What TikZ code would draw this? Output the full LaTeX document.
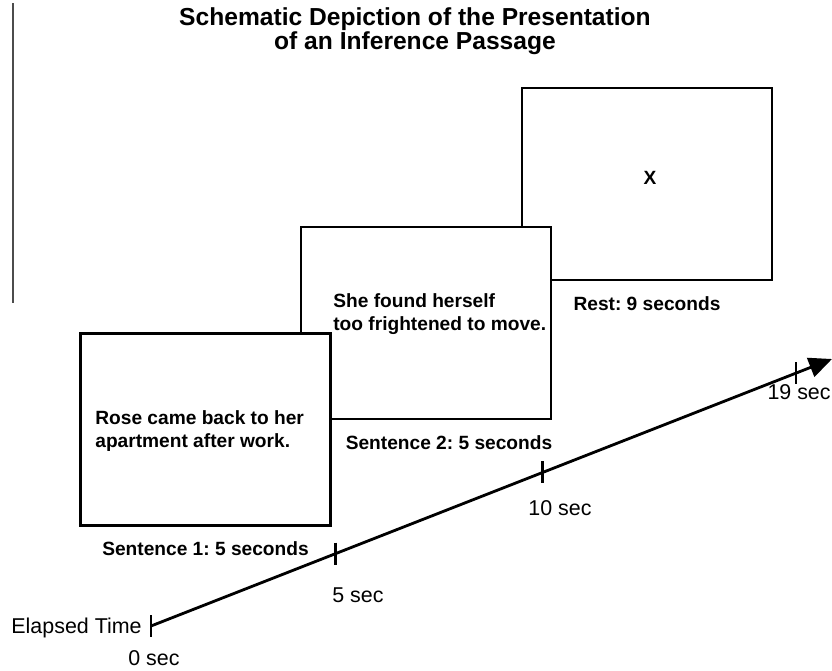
\documentclass[tikz,border=0pt]{standalone}
\usepackage{fontspec}
\setmainfont{Liberation Sans}
\usetikzlibrary{positioning,arrows.meta,calc}
\frenchspacing

\begin{document}
\begin{tikzpicture}[
    % GLOBAL CFG
    x=0.02cm, y=-0.02cm,
    font=\fontsize{10.9}{12.8}\selectfont\bfseries,
    >={Triangle[length=0.46cm,width=0.4cm]},
    % Styles
    screen/.style={% For the three screens
        rectangle,
        draw,
        fill=white,
        line width=1.6pt,
        minimum width=5cm,
        minimum height=3.84cm,
        },
    words/.style={% For the sentence shown on a screen
        align=left,
        anchor=west,
        inner sep=0pt,
        },
    caption/.style={% For the duration under a screen
        inner sep=0pt,
        },
    axislabel/.style={% For the time marks
        font=\fontsize{12.2}{14}\selectfont,
        inner sep=0pt,
        },
    TimeLine/.style={% The time axis and its ticks
        line width=1.6pt,
        },
    ]

\useasboundingbox (0,0) rectangle (832,670);

    % Title
    \node [font=\fontsize{14}{13.6}\selectfont\bfseries, align=center] (title) at (415,31)
        {Schematic Depiction of the Presentation\\of an Inference Passage};
    \draw [gray!60!black, line width=0.8pt] (13,3) -- (13,303);

    % Draw the screens, last one first
    \node [screen] (box3) at (647,184) {};
    \node [screen] (box2) at (426,323) {};
    \node [screen] (box1) at (205.5,429.5) {};

    % What is on them
    \node [words] (txt1) at (95,431) {Rose came back to her\\apartment after work.};
    \node [words] (txt2) at (333,314) {She found herself\\too frightened to move.};
    \node (txt3) at (650,178) {X};

    % Durations
    \node [caption, below=0.29cm of box1] (cap1) {Sentence 1: 5 seconds};
    \node [caption, below=0.29cm of box2, xshift=0.46cm] (cap2) {Sentence 2: 5 seconds};
    \node [caption, below=0.29cm of box3] (cap3) {Rest: 9 seconds};

    % Time axis
    \coordinate (t0) at (151,626);
    \coordinate (tend) at (832,359);
    \coordinate (t5) at ($(t0)!0.271!(tend)$);
    \coordinate (t10) at ($(t0)!0.575!(tend)$);
    \coordinate (t19) at ($(t0)!0.947!(tend)$);
    \draw [->, TimeLine] (t0) -- (tend);
    \foreach \t in {t0,t5,t10,t19}
        \draw [TimeLine] ($(\t)+(0,-11)$) -- ($(\t)+(0,11)$);

    \node [axislabel, anchor=east] (elapsed) at ($(t0)+(-9,2)$) {Elapsed Time};
    \node [axislabel] (s0) at (154,658) {0 sec};
    \node [axislabel] (s5) at (358,595) {5 sec};
    \node [axislabel] (s10) at (560,508) {10 sec};
    \node [axislabel, anchor=east] (s19) at (831,392) {19 sec};

\end{tikzpicture}
\end{document}
